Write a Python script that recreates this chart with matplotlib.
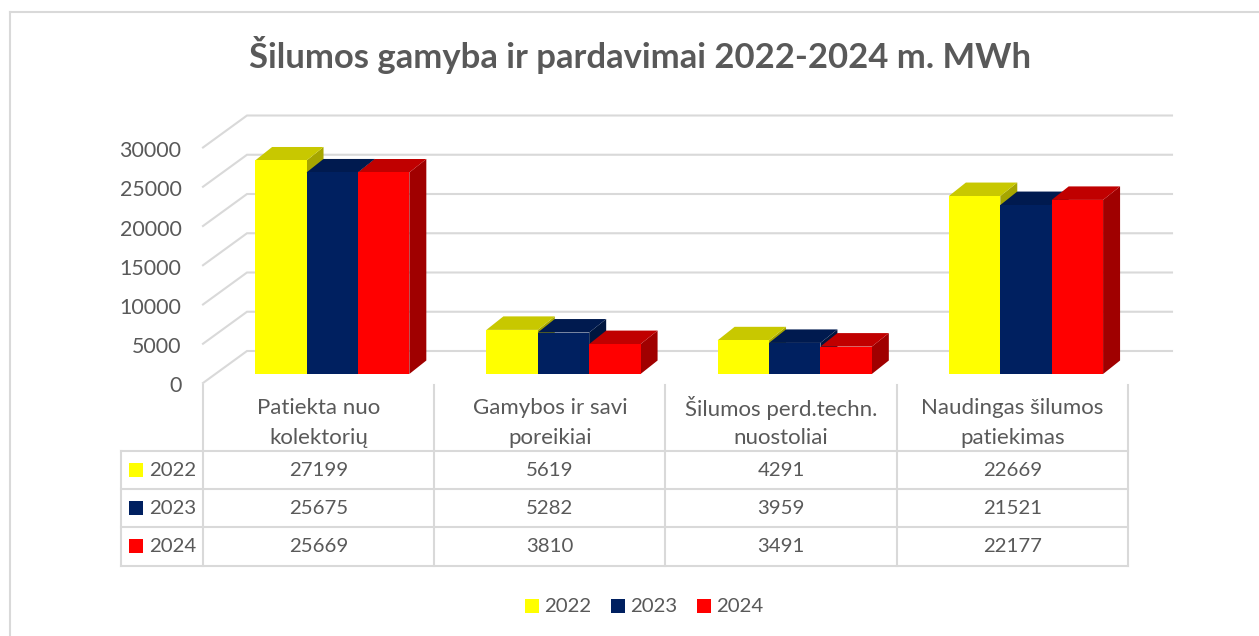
import matplotlib
matplotlib.use("Agg")
import matplotlib.pyplot as plt
from matplotlib.patches import Polygon, Rectangle
from matplotlib.transforms import ScaledTranslation

plt.rcParams['font.family'] = ['Lato', 'DejaVu Sans']

# Data
title = "Šilumos gamyba ir pardavimai 2022-2024 m. MWh"
categories = ["Patiekta nuo\nkolektorių", "Gamybos ir savi\nporeikiai",
              "Šilumos perd.techn.\nnuostoliai", "Naudingas šilumos\npatiekimas"]
years = ["2022", "2023", "2024"]
values_2022 = [27199, 5619, 4291, 22669]
values_2023 = [25675, 5282, 3959, 21521]
values_2024 = [25669, 3810, 3491, 22177]
y_ticks = [0, 5000, 10000, 15000, 20000, 25000, 30000]

series = [values_2022, values_2023, values_2024]
front_colors = ["#FFFF00", "#002060", "#FF0000"]
top_colors = ["#C8C800", "#001A4F", "#C00000"]
side_colors = ["#A6A600", "#00163F", "#A00000"]

GREY = "#D9D9D9"
TEXT = "#595959"
LW = 1.5
W, H = 1259, 636

fig = plt.figure(figsize=(W / 100, H / 100), dpi=100, facecolor="white")

# Overlay in pixels for frame, table and legend
bg = fig.add_axes([0, 0, 1, 1])
bg.set_xlim(0, W)
bg.set_ylim(H, 0)
bg.axis("off")

# Front plane of the 3D box: categories on x, values on y
PLOT_L, PLOT_R = 203, 1128
PLOT_BOTTOM, PX_PER_UNIT = 383, 0.00785
plot_top = PLOT_BOTTOM - 30000 * PX_PER_UNIT
ax = fig.add_axes([PLOT_L / W, 1 - PLOT_BOTTOM / H,
                   (PLOT_R - PLOT_L) / W, (PLOT_BOTTOM - plot_top) / H])
ax.set_xlim(0, 4)
ax.set_ylim(0, 30000)
ax.patch.set_visible(False)
for s in ax.spines.values():
    s.set_visible(False)
ax.set_xticks([])
ax.set_yticks(y_ticks)
ax.set_yticklabels([str(t) for t in y_ticks], color=TEXT, fontsize=15.4)
ax.tick_params(axis="y", length=0, pad=15.5)
# tick labels sit a little under their gridline start
shift = ScaledTranslation(0, -1.5 / 100, fig.dpi_scale_trans)
for lab in ax.get_yticklabels():
    lab.set_transform(lab.get_transform() + shift)

# Depth offsets in data units
cat_px = (PLOT_R - PLOT_L) / 4
WALL_DX, WALL_DY = 44 / cat_px, 32 / PX_PER_UNIT
BAR_X0, BAR_Y0 = 13.6 / cat_px, 9 / PX_PER_UNIT
BAR_DX, BAR_DY = 17 / cat_px, 13.5 / PX_PER_UNIT
BAR_W = 51.4 / cat_px

# Gridlines on side and back wall
for t in y_ticks:
    ax.plot([0, WALL_DX, 4 + WALL_DX], [t, t + WALL_DY, t + WALL_DY],
            color=GREY, lw=LW, clip_on=False, zorder=1, solid_joinstyle="miter")

# Bars
for c in range(len(categories)):
    left = c + 0.5 + BAR_X0 - 1.5 * BAR_W
    for i, vals in enumerate(series):
        x0 = left + i * BAR_W
        x1 = x0 + BAR_W
        y0 = BAR_Y0
        y1 = BAR_Y0 + vals[c]
        top = [(x0, y1), (x1, y1), (x1 + BAR_DX, y1 + BAR_DY), (x0 + BAR_DX, y1 + BAR_DY)]
        side = [(x1, y0), (x1 + BAR_DX, y0 + BAR_DY), (x1 + BAR_DX, y1 + BAR_DY), (x1, y1)]
        ax.add_patch(Polygon(side, fc=side_colors[i], ec="none", clip_on=False, zorder=3))
        ax.add_patch(Polygon(top, fc=top_colors[i], ec="none", clip_on=False, zorder=3))
        ax.add_patch(Rectangle((x0, y0), BAR_W, vals[c], fc=front_colors[i], ec="none",
                               clip_on=False, zorder=3))

# Chart frame (runs off the image at right and bottom)
bg.plot([10.5, 10.5], [H, 11.5], color=GREY, lw=LW)
bg.plot([10.5, W], [11.5, 11.5], color=GREY, lw=LW)

bg.text(640, 55, title, ha="center", va="center", fontsize=24.9, fontweight="bold", color=TEXT)

# Data table
col_x = [PLOT_L + cat_px * i for i in range(5)]
row_y = [451, 489, 527, 565.5]
TABLE_L = 121
for x in col_x:
    bg.plot([x, x], [385, row_y[-1]], color=GREY, lw=LW)
for y in row_y:
    bg.plot([TABLE_L, PLOT_R], [y, y], color=GREY, lw=LW)
bg.plot([TABLE_L, TABLE_L], [row_y[0], row_y[-1]], color=GREY, lw=LW)

for c, label in enumerate(categories):
    cx = col_x[c] + cat_px / 2
    line1, line2 = label.split("\n")
    bg.text(cx, 408, line1, ha="center", va="center", fontsize=16, color=TEXT)
    bg.text(cx, 437.5, line2, ha="center", va="center", fontsize=16, color=TEXT)

for r, year in enumerate(years):
    cy = (row_y[r] + row_y[r + 1]) / 2
    bg.add_patch(Rectangle((129, cy - 7), 14, 14, fc=front_colors[r], ec="none"))
    bg.text(149, cy, year, ha="left", va="center", fontsize=14.7, color=TEXT)
    for c in range(len(categories)):
        bg.text(col_x[c] + cat_px / 2, cy + 0.5, str(series[r][c]), ha="center", va="center",
                fontsize=14.7, color=TEXT)

# Legend
for i, year in enumerate(years):
    sx = 525 + i * 86
    bg.add_patch(Rectangle((sx, 599), 14, 14, fc=front_colors[i], ec="none"))
    bg.text(sx + 19, 606, year, ha="left", va="center", fontsize=14.7, color=TEXT)

fig.savefig("out.png", dpi=100)
